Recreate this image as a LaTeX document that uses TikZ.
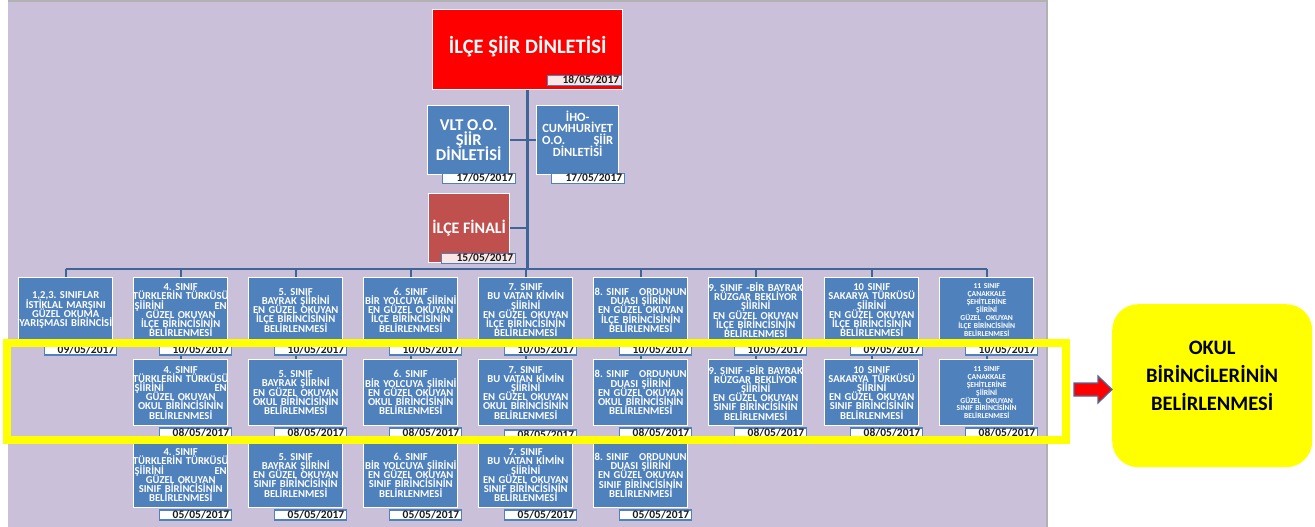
\documentclass[tikz,border=0pt]{standalone}
\usepackage{fontspec}
\setmainfont{Carlito}
\frenchspacing
\setlength{\lineskiplimit}{-30pt}
\definecolor{lav}{HTML}{CBC0DA}
\definecolor{boxblue}{HTML}{4F81BD}
\definecolor{tabblue}{HTML}{4F81BD}
\definecolor{connblue}{HTML}{3E6596}
\definecolor{datetxt}{HTML}{1A1A1A}
\definecolor{finred}{HTML}{C0504D}
\definecolor{pinktab}{HTML}{FBE6E6}
\definecolor{hlyellow}{HTML}{FFFF00}
\definecolor{arrowedge}{HTML}{4A6C9B}
\newcommand\orgbox[7][]{%
  \node[blk,#1,minimum height=#5pt,anchor=north west] (#2) at (#3,#4) {#6};
  \node[datetab,anchor=north east] (#2d) at ([xshift=4pt,yshift=-1pt]#2.south east) {#7};}
\newcommand\twoends[2]{\makebox[92pt]{#1\hfill #2}}
\newcommand\fullline[1]{\makebox[92pt]{#1}}
\newcommand\tightfont[2]{\bfseries\fontsize{#1}{#2}\selectfont\lineskiplimit=-30pt\frenchspacing}
\begin{document}
\begin{tikzpicture}[x=1pt,y=-1pt,
  blk/.style={rectangle, fill=boxblue, draw=white, line width=1.4pt, minimum width=94pt,
    text width=92pt, inner sep=1pt, align=center, text=white,
    font=\tightfont{10.6}{9.2}},
  smalltxt/.style={font=\tightfont{7.6}{7.9}},
  datetab/.style={rectangle, fill=white, draw=tabblue, line width=1.3pt, minimum width=72pt,
    minimum height=10pt, text width=67pt, inner xsep=1pt, inner ysep=0pt, text height=7pt,
    text depth=1pt, align=right, text=datetxt, font=\tightfont{11.5}{10}},
  topbox/.style={rectangle, draw=white, line width=1.4pt, inner sep=0pt, align=center,
    text=white, anchor=north west},
  conn/.style={draw=connblue, line width=2pt},
  trunk/.style={draw=connblue, line width=3pt}]
\useasboundingbox (0,0) rectangle (1315,527);
\fill[white] (0,0) rectangle (1315,527);
% background panel
\fill[lav] (8,1.5) rectangle (1046,527);
\draw[gray!60, line width=1.5pt] (8,1) -- (1047,1) -- (1047,527);

% top level
\node[topbox, fill=red, minimum width=190pt, minimum height=80pt,
  font=\tightfont{20.5}{22}] (top) at (432,9) {\raisebox{3pt}[\height][\depth]{İLÇE ŞİİR DİNLETİSİ}};
\node[datetab, fill=pinktab, minimum width=74pt, text width=69pt, anchor=north west] (topd) at (547,75) {18/05/2017};

\node[topbox, fill=boxblue, minimum width=82pt, minimum height=69pt,
  font=\tightfont{16.5}{14.6}] (vlt) at (427,105) {VLT O.O.\\ŞİİR\\DİNLETİSİ};
\node[datetab, minimum width=73pt, text width=68pt, anchor=north west] (vltd) at (442,173) {17/05/2017};

\node[topbox, fill=boxblue, minimum width=82pt, minimum height=69pt,
  font=\tightfont{12.5}{11.6}] (iho) at (536,105) {İHO-\\CUMHURİYET\\\makebox[71pt]{O.O.\hfill ŞİİR}\\DİNLETİSİ\\[2pt]};
\node[datetab, minimum width=73pt, text width=68pt, anchor=north west] (ihod) at (551,173) {17/05/2017};

\node[topbox, fill=finred, minimum width=81pt, minimum height=69pt,
  font=\tightfont{16}{18}] (fin) at (428,193) {İLÇE FİNALİ};
\node[datetab, fill=pinktab, minimum width=74pt, text width=69pt, anchor=north west] (find) at (441,253) {15/05/2017};

% row 1 : ilce
\orgbox{r1c1}{18}{277}{65}{1,2,3. SINIFLAR\\İSTİKLAL MARŞINI\\GÜZEL OKUMA\\\fullline{YARIŞMASI BİRİNCİSİ}}{09/05/2017}
\orgbox{r1c2}{133}{277}{65}{4. SINIF\\\fullline{TÜRKLERİN TÜRKÜSÜ}\\\twoends{ŞİİRİNİ}{EN}\\GÜZEL OKUYAN\\İLÇE BİRİNCİSİNİN\\BELİRLENMESİ}{10/05/2017}
\orgbox{r1c3}{248}{277}{65}{5. SINIF\\BAYRAK ŞİİRİNİ\\EN GÜZEL OKUYAN\\İLÇE BİRİNCİSİNİN\\BELİRLENMESİ}{10/05/2017}
\orgbox{r1c4}{363}{277}{65}{6. SINIF\\\fullline{BİR YOLCUYA ŞİİRİNİ}\\EN GÜZEL OKUYAN\\İLÇE BİRİNCİSİNİN\\BELİRLENMESİ}{10/05/2017}
\orgbox{r1c5}{478}{277}{65}{7. SINIF\\BU VATAN KİMİN\\ŞİİRİNİ\\EN GÜZEL OKUYAN\\İLÇE BİRİNCİSİNİN\\BELİRLENMESİ}{10/05/2017}
\orgbox{r1c6}{593}{277}{65}{\twoends{8. SINIF}{ORDUNUN}\\DUASI ŞİİRİNİ\\EN GÜZEL OKUYAN\\İLÇE BİRİNCİSİNİN\\BELİRLENMESİ}{10/05/2017}
\orgbox{r1c7}{708}{277}{65}{\fullline{9. SINIF -BİR BAYRAK}\\RÜZGAR BEKLİYOR\\ŞİİRİNİ\\EN GÜZEL OKUYAN\\İLÇE BİRİNCİSİNİN\\BELİRLENMESİ}{10/05/2017}
\orgbox{r1c8}{824}{277}{65}{10 SINIF\\SAKARYA TÜRKÜSÜ\\ŞİİRİNİ\\EN GÜZEL OKUYAN\\İLÇE BİRİNCİSİNİN\\BELİRLENMESİ}{09/05/2017}
\orgbox[smalltxt]{r1c9}{939}{277}{65}{11 SINIF\\ÇANAKKALE\\ŞEHİTLERİNE\\ŞİİRİNİ\\GÜZEL\ \ OKUYAN\\İLÇE BİRİNCİSİNİN\\BELİRLENMESİ}{10/05/2017}

% row 2 : okul
\orgbox{r2c2}{133}{359}{66}{4. SINIF\\\fullline{TÜRKLERİN TÜRKÜSÜ}\\\twoends{ŞİİRİNİ}{EN}\\GÜZEL OKUYAN\\OKUL BİRİNCİSİNİN\\BELİRLENMESİ}{08/05/2017}
\orgbox{r2c3}{248}{359}{66}{5. SINIF\\BAYRAK ŞİİRİNİ\\EN GÜZEL OKUYAN\\OKUL BİRİNCİSİNİN\\BELİRLENMESİ}{08/05/2017}
\orgbox{r2c4}{363}{359}{66}{6. SINIF\\\fullline{BİR YOLCUYA ŞİİRİNİ}\\EN GÜZEL OKUYAN\\OKUL BİRİNCİSİNİN\\BELİRLENMESİ}{08/05/2017}
\node[blk,minimum height=66pt,anchor=north west] (r2c5) at (478,359) {7. SINIF\\BU VATAN KİMİN\\ŞİİRİNİ\\EN GÜZEL OKUYAN\\OKUL BİRİNCİSİNİN\\BELİRLENMESİ};
\node[datetab,anchor=north east] (r2c5d) at ([xshift=4pt,yshift=-3pt]r2c5.south east) {08/05/2017};
\orgbox{r2c6}{593}{359}{66}{\twoends{8. SINIF}{ORDUNUN}\\DUASI ŞİİRİNİ\\EN GÜZEL OKUYAN\\OKUL BİRİNCİSİNİN\\BELİRLENMESİ}{08/05/2017}
\orgbox{r2c7}{708}{359}{66}{\fullline{9. SINIF -BİR BAYRAK}\\RÜZGAR BEKLİYOR\\ŞİİRİNİ\\EN GÜZEL OKUYAN\\SINIF BİRİNCİSİNİN\\BELİRLENMESİ}{08/05/2017}
\orgbox{r2c8}{824}{359}{66}{10 SINIF\\SAKARYA TÜRKÜSÜ\\ŞİİRİNİ\\EN GÜZEL OKUYAN\\SINIF BİRİNCİSİNİN\\BELİRLENMESİ}{08/05/2017}
\orgbox[smalltxt]{r2c9}{939}{359}{66}{11 SINIF\\ÇANAKKALE\\ŞEHİTLERİNE\\ŞİİRİNİ\\GÜZEL\ \ OKUYAN\\SINIF BİRİNCİSİNİN\\BELİRLENMESİ}{08/05/2017}

% row 3 : sinif
\orgbox{r3c2}{133}{442}{65}{4. SINIF\\\fullline{TÜRKLERİN TÜRKÜSÜ}\\\twoends{ŞİİRİNİ}{EN}\\GÜZEL OKUYAN\\SINIF BİRİNCİSİNİN\\BELİRLENMESİ}{05/05/2017}
\orgbox{r3c3}{248}{442}{65}{5. SINIF\\BAYRAK ŞİİRİNİ\\EN GÜZEL OKUYAN\\SINIF BİRİNCİSİNİN\\BELİRLENMESİ}{05/05/2017}
\orgbox{r3c4}{363}{442}{65}{6. SINIF\\\fullline{BİR YOLCUYA ŞİİRİNİ}\\EN GÜZEL OKUYAN\\SINIF BİRİNCİSİNİN\\BELİRLENMESİ}{05/05/2017}
\orgbox{r3c5}{478}{442}{65}{7. SINIF\\BU VATAN KİMİN\\ŞİİRİNİ\\EN GÜZEL OKUYAN\\SINIF BİRİNCİSİNİN\\BELİRLENMESİ}{05/05/2017}
\orgbox{r3c6}{593}{442}{65}{\twoends{8. SINIF}{ORDUNUN}\\DUASI ŞİİRİNİ\\EN GÜZEL OKUYAN\\SINIF BİRİNCİSİNİN\\BELİRLENMESİ}{05/05/2017}

% connectors
\coordinate (barY) at (0,269);
\draw[trunk] (top.south) -- (top.south |- barY);
\draw[conn] (vlt.east) -- (vlt.east -| top.south);
\draw[conn] (iho.west) -- (iho.west -| top.south);
\draw[conn] (fin.east) -- (fin.east -| top.south);
\draw[conn] (r1c1.north |- barY) -- (r1c9.north |- barY);
\foreach \k in {1,...,9} {\draw[conn] (r1c\k.north) -- (r1c\k.north |- barY);}
\foreach \k in {2,...,9} {\draw[conn] (r1c\k.south |- r1c\k d.south) -- (r2c\k.north);}
\foreach \k in {2,...,6} {\draw[conn] (r2c\k.south |- r2c\k d.south) -- (r3c\k.north);}

% highlight frame
\draw[hlyellow, line width=8pt] (7,343) rectangle (1066,439.5);

% right side
\node[rectangle, rounded corners=26pt, fill=hlyellow, minimum width=200pt, minimum height=163pt,
  anchor=north west] (okul) at (1112,304) {};
\node[align=center, text=black, font=\bfseries\fontsize{20.5}{28}\selectfont] (okult)
  at ([yshift=10pt]okul.center) {OKUL\\BİRİNCİLERİNİN\\BELİRLENMESİ};
\draw[fill=red, draw=arrowedge, line width=1.2pt]
  (1074,383) -- (1098,383) -- (1098,376) -- (okul.west |- 0,389.5) -- (1098,403)
  -- (1098,396) -- (1074,396) -- cycle;
\end{tikzpicture}
\end{document}
